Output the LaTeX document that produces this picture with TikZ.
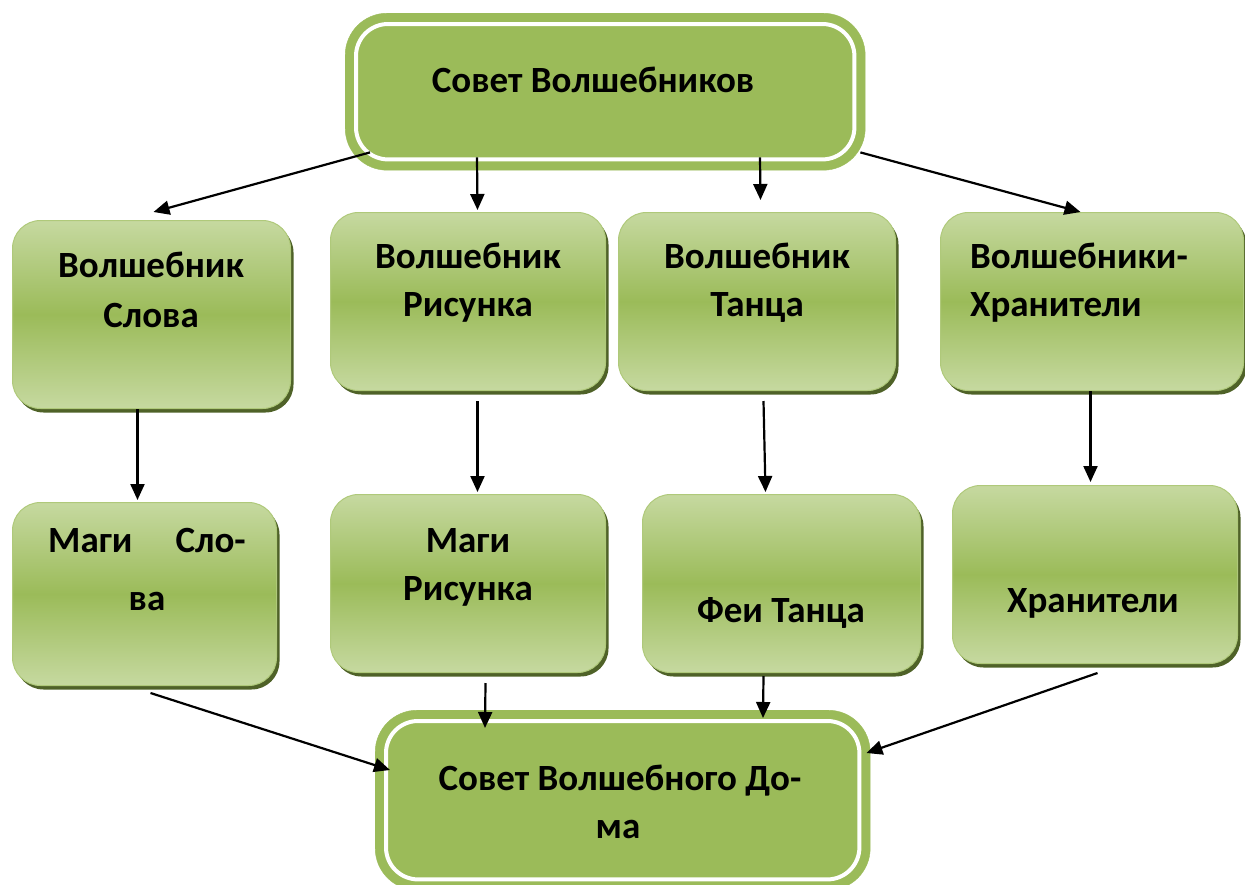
\documentclass[tikz,border=0pt]{standalone}
\usepackage{fontspec}
\setmainfont{Carlito}
\usetikzlibrary{arrows.meta,shadows}
\definecolor{og}{HTML}{9BBB59}
\definecolor{ogl}{HTML}{C6D9A0}
\definecolor{ogd}{HTML}{4F6228}
\tikzset{
  gbox/.style={rectangle, rounded corners=28pt, draw=og!80!white, line width=1pt,
    top color=ogl, bottom color=ogl, middle color=og, anchor=north west, inner sep=0pt,
    drop shadow={shadow xshift=3pt, shadow yshift=-4pt, fill=ogd, opacity=1}},
  bigbox/.style={rectangle, rounded corners=42pt, fill=og, draw=og, anchor=north west, inner sep=0pt},
  inner/.style={draw=white, line width=4pt, rounded corners=32pt},
  txt/.style={anchor=base, inner sep=0pt, font=\fontsize{37}{48}\selectfont\bfseries},
  arr/.style={line width=2.2pt, -{Triangle[length=16pt,width=14pt]}}
}
\begin{document}
\begin{tikzpicture}[x=1pt,y=-1pt]
\useasboundingbox (0,0) rectangle (1245,884);
% top box
\node[bigbox, minimum width=520pt, minimum height=157pt] (top) at (345,13) {};
\draw[inner] ([shift={(11pt,-11pt)}]top.north west) rectangle ([shift={(-11pt,11pt)}]top.south east);
% bottom box
\node[bigbox, minimum width=495pt, minimum height=180pt] (bot) at (375,710) {};
\draw[inner] ([shift={(11pt,-11pt)}]bot.north west) rectangle ([shift={(-11pt,11pt)}]bot.south east);
% level 2
\node[gbox, minimum width=278pt, minimum height=188pt] (b1) at (12,220) {};
\node[gbox, minimum width=275pt, minimum height=178pt] (b2) at (330,212) {};
\node[gbox, minimum width=277pt, minimum height=178pt] (b3) at (618,212) {};
\node[gbox, minimum width=303pt, minimum height=178pt] (b4) at (940,212) {};
% level 3
\node[gbox, minimum width=264pt, minimum height=183pt] (c1) at (12,502) {};
\node[gbox, minimum width=275pt, minimum height=178pt] (c2) at (330,494) {};
\node[gbox, minimum width=278pt, minimum height=178pt] (c3) at (642,494) {};
\node[gbox, minimum width=285pt, minimum height=178pt] (c4) at (952,485) {};
% texts
\node[txt] (tt) at (593,92) {Совет Волшебников};
\node[txt] (t1a) at (151,277) {Волшебник};
\node[txt] (t1b) at (151,327) {Слова};
\node[txt] (t2a) at (468,268) {Волшебник};
\node[txt] (t2b) at (468,316) {Рисунка};
\node[txt] (t3a) at (757,268) {Волшебник};
\node[txt] (t3b) at (757,316) {Танца};
\node[txt, anchor=base west] (t4a) at (970,268) {Волшебники-};
\node[txt, anchor=base west] (t4b) at (970,316) {Хранители};
\node[txt, anchor=base west] (u1a) at (48,552) {Маги};
\node[txt, anchor=base east] (u1b) at (246,552) {Сло-};
\node[txt] (u1c) at (147,610) {ва};
\node[txt] (u2a) at (468,552) {Маги};
\node[txt] (u2b) at (468,600) {Рисунка};
\node[txt] (u3) at (781,622) {Феи Танца};
\node[txt] (u4) at (1093,612) {Хранители};
\node[txt] (tba) at (620,790) {Совет Волшебного До-};
\node[txt] (tbb) at (618,838) {ма};
% arrows
\draw[arr] ([shift={(25pt,18pt)}]top.south west) -- ([shift={(2pt,8pt)}]b1.north);
\draw[arr] ([shift={(132pt,13pt)}]top.south west) -- ([shift={(9.5pt,2pt)}]b2.north);
\draw[arr] ([shift={(415pt,13pt)}]top.south west) -- ([shift={(3.5pt,12pt)}]b3.north);
\draw[arr] ([shift={(-5pt,18pt)}]top.south east) -- ([shift={(-11.5pt,0pt)}]b4.north);
\draw[arr] ([shift={(-14pt,0pt)}]b1.south) -- ([shift={(-7pt,2pt)}]c1.north);
\draw[arr] ([shift={(9.5pt,-10pt)}]b2.south) -- ([shift={(9.5pt,2pt)}]c2.north);
\draw[arr] ([shift={(6.5pt,-10pt)}]b3.south) -- ([shift={(-16pt,2pt)}]c3.north);
\draw[arr] ([shift={(-1.5pt,0pt)}]b4.south) -- ([shift={(-4.5pt,3pt)}]c4.north);
\draw[arr] ([shift={(6pt,-7pt)}]c1.south) -- ([shift={(15pt,-60pt)}]bot.north west);
\draw[arr] ([shift={(17.5pt,-10pt)}]c2.south) -- ([shift={(110pt,-18pt)}]bot.north west);
\draw[arr] ([shift={(-18pt,-3pt)}]c3.south) -- ([shift={(388pt,-8pt)}]bot.north west);
\draw[arr] ([shift={(2.5pt,-9pt)}]c4.south) -- ([shift={(-4pt,-43pt)}]bot.north east);
\end{tikzpicture}
\end{document}
